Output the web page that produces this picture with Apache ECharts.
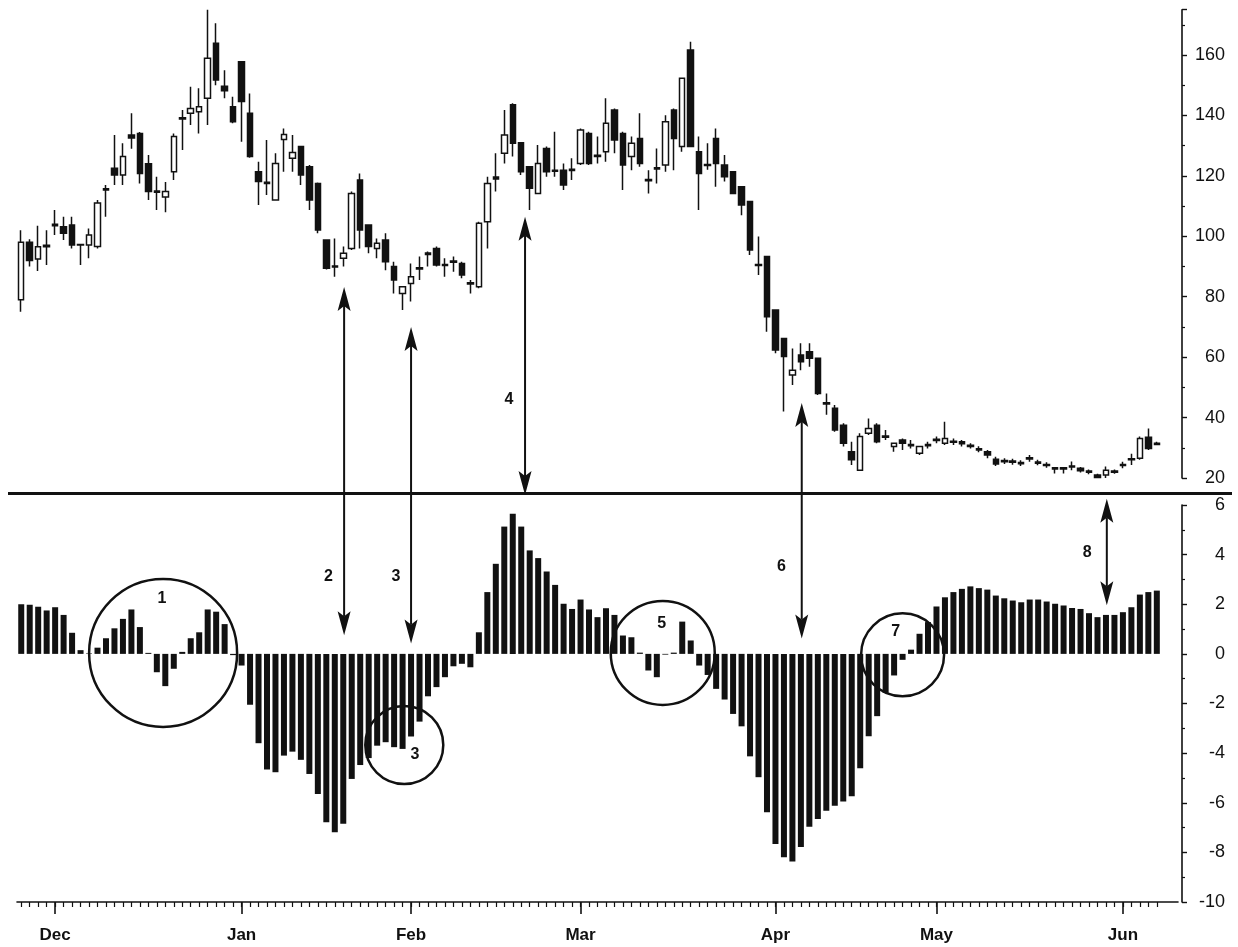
<!DOCTYPE html>
<html><head><meta charset="utf-8">
<script src="https://cdn.jsdelivr.net/npm/echarts@6/dist/echarts.min.js"></script>
<style>html,body{margin:0;padding:0;background:#fff}#c{width:1238px;height:947px}</style>
</head><body><div id="c"></div>
<script>
// ---- data ----
const monthNames = ['Dec','Jan','Feb','Mar','Apr','May','Jun'];
const monthStart = [4,26,46,66,89,108,130];

const opens = [79,98,92.5,96.5,103.5,103.2,103.7,97.3,97.1,96.6,
115.3,122.5,120.3,133.5,134,124,115,113,121.4,139.2,
140.7,141.2,145.7,163.9,149.7,142.9,157.8,140.7,121.4,117.9,
112,132,125.8,129.7,123,117.5,98.8,90.2,92.7,96,
118.6,103.7,96,98.8,90,81.1,84.4,89.6,94,96,
90.7,91.8,91,84.6,83.3,104.8,119.6,127.5,143.5,131,
123,114.2,129.1,121.9,121.9,122.2,124.1,134,126.8,128,
141.8,134,126.4,132.4,118.8,122.7,123.6,141.8,129.7,161.7,
128,123.8,132.4,123.6,121.4,116.4,111.5,90.7,93.3,75.6,
66.2,54.1,60.7,61.8,59.6,44.9,43.1,37.5,28.7,22.6,
34.8,37.5,33.9,30.4,32.6,31.1,28.2,31.1,32.8,31.5,
32.2,32,30.8,29.7,28.7,26.2,25.8,25.6,25.1,26.7,
25.3,24.5,23.4,23.4,24,23.2,22.3,21,21,22.3,
24.5,26.4,26.5,33.5,31.5];
const closes = [98,92,96.5,97,104,101,97.1,97.1,100.4,111,
115.7,120.3,126.4,132.5,120.8,114.8,114.6,114.8,133,138.8,
142.3,142.9,158.9,151.7,148.2,137.9,144.6,126.4,118.1,117.5,
124.1,133.7,127.7,120.3,112,102.1,89.4,89.8,94.4,114.2,
102.1,96.6,97.7,91.6,85.5,83.3,86.6,89.2,94.5,90.5,
90.3,91.4,87.2,84.2,104.3,117.5,119,133.5,130.8,121.4,
115.9,124.1,121.4,121.5,117,121.8,135.2,124.1,126.4,137.4,
131.9,123.6,130.8,124.1,118.4,122.3,137.9,132.4,152.3,129.7,
120.8,123.4,124.1,119.7,114.2,110.4,95.5,90.3,73.4,62.4,
60.2,55.7,58.5,59.6,48,44.5,35.9,31.5,26,33.7,
36.4,32,33.5,31.5,31.5,30.7,30.4,30.7,32.4,33.1,
31.8,31.3,30.4,29.3,27.6,24.6,25.4,25.2,24.7,26.3,
24.9,24.1,23,23,23.6,22.4,21.9,20.2,22.6,21.9,
24.1,26,33.1,29.8,31.1];
const lows = [75,90,88.5,90.5,100.4,98.8,96,90.5,92.7,96,
106.5,117,117,129,117.5,112,108.7,108,118.6,128.6,
136.8,134,136.8,150,145.7,137.4,131.3,126,110.4,113.7,
111.8,121.4,121.4,117,108.7,101,89,86.6,90,95.5,
96,94.4,92.7,88.8,81.1,75.6,78.4,85.5,90,90,
86.6,88.3,86.1,81.1,82.8,96,114.8,124.1,126.4,120.3,
108.7,114,119.7,119.7,115.3,118.6,123.6,123.6,124.1,124.7,
127.5,115.3,121.9,123,114.2,117.5,121.4,121.9,128,129.5,
108.7,122,116.4,118.1,114,107,93.8,87.2,68.4,61.3,
42,50.8,55.7,56.8,47.5,40.9,35.3,30.4,24.3,22.4,
34.2,31.5,32.6,28.7,29.3,29.8,27.6,29.8,31.5,30.9,
30.9,30.4,29.8,28.5,26.5,24,24.6,24.4,24,25.4,
24.2,23.4,21.5,21.5,22.6,21.8,21.2,20,20,21.4,
23.2,24.3,26,29.3,30.9];
const highs = [102,99,103.5,102,108.7,106.5,106.5,97.5,102.6,112,
117,133.5,130.8,140.7,134.5,126.9,119.7,118,134,141.8,
149.5,149,175,170.5,155,146.2,158,147.3,124.7,131.9,
127.5,135.7,133.5,130,123.6,117.8,99,99.3,96.6,114.8,
120.8,104,99.3,101,91.6,83.5,91,93.3,95,96.6,
92.7,93.3,91.6,85.5,104.8,119.7,127.5,141.8,144,131.2,
123.2,130.2,129.7,134.6,124.1,125.8,135.7,134.6,133,145.7,
142.3,134.6,133,140.7,121.9,129.1,140.1,142.3,152.5,164.4,
133,130.8,135.7,126.9,121.6,116.6,111.7,99.9,93.5,75.8,
66.4,62.9,64.6,64.6,59.8,48,44.2,38.1,32,34.8,
39.7,38.1,35.9,31.7,33.1,32.6,30.6,32,33.7,38.6,
33.1,32.6,31.5,30.5,29.3,27,26.5,26.4,25.9,27.6,
26,25.2,23.4,23.4,25.5,23.6,22.8,21.4,23.8,22.8,
25.4,28,33.7,36.4,32];
const histogram = [2.0,1.98,1.9,1.75,1.88,1.57,0.85,0.15,0.02,0.25,
0.63,1.03,1.41,1.79,1.08,0.04,-0.74,-1.3,-0.6,0.08,
0.63,0.87,1.79,1.7,1.2,-0.05,-0.47,-2.05,-3.6,-4.66,
-4.77,-4.1,-3.94,-4.27,-4.84,-5.65,-6.79,-7.19,-6.85,-5.04,
-4.48,-4.2,-3.7,-3.56,-3.76,-3.83,-3.33,-2.73,-1.71,-1.34,
-0.94,-0.5,-0.4,-0.54,0.87,2.49,3.63,5.13,5.65,5.13,
4.17,3.86,3.32,2.78,2.02,1.81,2.19,1.79,1.48,1.84,
1.57,0.74,0.67,0.05,-0.67,-0.94,-0.03,0.05,1.3,0.54,
-0.47,-0.85,-1.41,-1.84,-2.42,-2.92,-4.13,-4.97,-6.38,-7.66,
-8.2,-8.37,-7.78,-6.97,-6.65,-6.32,-6.12,-5.95,-5.74,-4.61,
-3.32,-2.51,-1.57,-0.87,-0.24,0.17,0.81,1.28,1.91,2.28,
2.49,2.62,2.72,2.65,2.59,2.35,2.24,2.15,2.08,2.19,
2.19,2.11,2.02,1.95,1.85,1.81,1.64,1.48,1.57,1.57,
1.68,1.88,2.39,2.49,2.55];
const priceTicks = [20,40,60,80,100,120,140,160];
const histTicks = [-10,-8,-6,-4,-2,0,2,4,6];

// annotations (category index, value on price grid 0 or histogram grid 1)
const arrows = [
  {top:[38.1,0,83.2], bottom:[38.1,1,0.75]},
  {top:[46.0,0,70.0], bottom:[46.0,1,0.42]},
  {top:[59.45,0,106.5], bottom:[59.45,1,6.4]},
  {top:[92.1,0,44.8], bottom:[92.1,1,0.62]},
  {top:[128.1,1,6.25], bottom:[128.1,1,1.96]}
];
const circles = [
  {c:[16.74,1,0.04], r:74},
  {c:[45.2,1,-3.67], r:39},
  {c:[75.7,1,0.04], r:52},
  {c:[104.0,1,-0.04], r:41.5}
];
const notes = [
  {t:'1', p:[16.6,1,2.23]},
  {t:'2', p:[36.24,1,3.1]},
  {t:'3', p:[44.23,1,3.1]},
  {t:'3', p:[46.47,1,-4.07]},
  {t:'4', p:[57.56,0,45.8]},
  {t:'5', p:[75.58,1,1.22]},
  {t:'6', p:[89.7,1,3.5]},
  {t:'7', p:[103.2,1,0.89]},
  {t:'8', p:[125.8,1,4.08]}
];

// ---- chart ----
const N = opens.length;
const SLOTS = 137;
const categories = [];
for (let i = 0; i < SLOTS; i++) categories.push('d' + i);
const candleData = opens.map((o, i) => [o, closes[i], lows[i], highs[i]]);
const isMonth = i => monthStart.indexOf(i) >= 0;
const INK = '#111';
const FONT = 'Liberation Sans, Arial, sans-serif';

function yAxisCfg(grid, min, max, interval, ticks) {
  return {
    gridIndex: grid, type: 'value', position: 'right', offset: 4,
    min: min, max: max, interval: interval,
    axisLine: {show: true, lineStyle: {color: INK, width: 1.6}},
    axisTick: {show: true, length: 5, lineStyle: {color: INK, width: 1.4}},
    minorTick: {show: true, splitNumber: 2, length: 3, lineStyle: {color: INK, width: 1.2}},
    splitLine: {show: false},
    axisLabel: {align: 'right', margin: 43, fontSize: 18, color: INK, fontFamily: FONT,
      formatter: v => ticks.indexOf(v) >= 0 ? String(v) : ''}
  };
}

const chart = echarts.init(document.getElementById('c'));
chart.setOption({
  animation: false,
  backgroundColor: '#fff',
  grid: [
    {left: 17, right: 60, top: 9.7, height: 468.3},
    {left: 17, right: 60, top: 505, height: 397}
  ],
  xAxis: [
    {gridIndex: 0, type: 'category', data: categories, boundaryGap: true, show: false},
    {gridIndex: 1, type: 'category', data: categories, boundaryGap: true, position: 'bottom',
      axisLine: {onZero: false, lineStyle: {color: INK, width: 1.6}},
      axisTick: {show: true, alignWithLabel: true, length: 5, interval: i => i < N, lineStyle: {color: INK, width: 1.2}},
      axisLabel: {show: false}},
    {gridIndex: 1, type: 'category', data: categories, boundaryGap: true, position: 'bottom',
      axisLine: {show: false, onZero: false},
      axisTick: {show: true, alignWithLabel: true, length: 12, interval: isMonth, lineStyle: {color: INK, width: 1.6}},
      axisLabel: {show: true, interval: isMonth, margin: 25, fontSize: 17, fontWeight: 'bold', color: INK, fontFamily: FONT,
        formatter: (v, i) => { const k = monthStart.indexOf(i); return k >= 0 ? monthNames[k] : ''; }}}
  ],
  yAxis: [
    yAxisCfg(0, 20, 175, 20, priceTicks),
    yAxisCfg(1, -10, 6, 2, histTicks)
  ],
  series: [
    {type: 'candlestick', xAxisIndex: 0, yAxisIndex: 0, data: candleData, barWidth: 6,
      itemStyle: {color: '#fff', color0: INK, borderColor: INK, borderColor0: INK, borderWidth: 1.5}},
    {type: 'bar', xAxisIndex: 1, yAxisIndex: 1, data: histogram, barWidth: 6,
      itemStyle: {color: INK}}
  ]
});

// ---- annotations anchored to the axes ----
const x0 = chart.convertToPixel({xAxisIndex: 0}, 0);
const x1 = chart.convertToPixel({xAxisIndex: 0}, 1);
const step = x1 - x0;
const px = p => [x0 + p[0] * step, chart.convertToPixel({yAxisIndex: p[1]}, p[2])];
const g = [];
g.push({type: 'line', shape: {x1: 8, y1: 493.5, x2: 1232, y2: 493.5}, style: {stroke: INK, lineWidth: 3}});
const HL = 24, HW = 6.5, HN = 19;
arrows.forEach(a => {
  const t = px(a.top), b = px(a.bottom);
  const x = t[0];
  g.push({type: 'line', shape: {x1: x, y1: t[1] + HN, x2: x, y2: b[1] - HN}, style: {stroke: INK, lineWidth: 2}});
  g.push({type: 'polygon', shape: {points: [[x, t[1]], [x - HW, t[1] + HL], [x, t[1] + HN], [x + HW, t[1] + HL]]}, style: {fill: INK}});
  g.push({type: 'polygon', shape: {points: [[x, b[1]], [x - HW, b[1] - HL], [x, b[1] - HN], [x + HW, b[1] - HL]]}, style: {fill: INK}});
});
circles.forEach(c => {
  const p = px(c.c);
  g.push({type: 'circle', shape: {cx: p[0], cy: p[1], r: c.r}, style: {fill: null, stroke: INK, lineWidth: 2.5}});
});
notes.forEach(n => {
  const p = px(n.p);
  g.push({type: 'text', x: p[0], y: p[1], style: {text: n.t, fill: INK, font: 'bold 16px ' + FONT, align: 'center', verticalAlign: 'middle', textAlign: 'center', textVerticalAlign: 'middle'}});
});
chart.setOption({graphic: g});
</script>
</body></html>
